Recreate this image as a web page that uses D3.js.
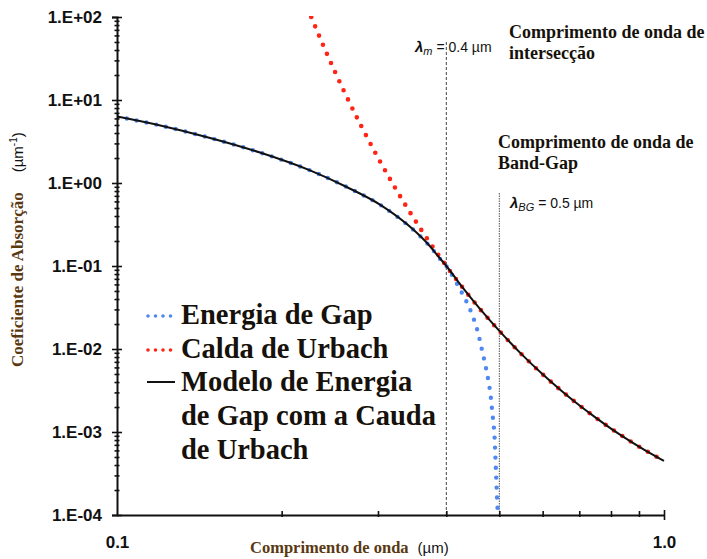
<!DOCTYPE html>
<html>
<head>
<meta charset="utf-8">
<script src="https://cdn.jsdelivr.net/npm/d3@7"></script>
<style>
  html, body { margin: 0; padding: 0; background: #fff; }
  svg { display: block; }
</style>
</head>
<body>
<svg id="chart" width="707" height="559"></svg>
<script>
// Absorption coefficient vs wavelength (log-log)

// Band-gap energy model (blue dotted)
const gapWavelength = [0.100, 0.120, 0.148, 0.1826, 0.2254, 0.263, 0.3025, 0.348, 0.3734, 0.3892, 0.400,
  0.4237, 0.4406, 0.4546, 0.4642, 0.4732, 0.4807, 0.4854, 0.4896, 0.4916, 0.4934, 0.4950, 0.4964, 0.4972];
const gapAlpha = [6.32, 4.93, 3.49, 2.33, 1.42, 0.895, 0.549, 0.274, 0.172, 0.123, 0.100,
  0.0524, 0.0315, 0.0179, 0.0101, 0.00569, 0.00315, 0.00174, 0.000973, 0.00053, 0.00029, 0.00017, 0.000115, 0.0001];

// Urbach tail (red dotted)
const urbachWavelength = [0.2265, 0.24, 0.26, 0.28, 0.30, 0.32, 0.34, 0.36, 0.38, 0.40, 0.43, 0.46,
  0.50, 0.55, 0.60, 0.65, 0.70, 0.75, 0.80, 0.85, 0.90, 0.95, 1.00];
const urbachAlpha = [100, 40.7, 12.8, 4.76, 2.02, 0.953, 0.491, 0.272, 0.161, 0.100, 0.0533, 0.0308,
  0.0165, 0.00855, 0.00495, 0.00312, 0.00210, 0.00149, 0.00110, 0.000845, 0.000668, 0.000541, 0.000448];

// Combined model: band gap with Urbach tail (black line)
const modelWavelength = [0.100, 0.120, 0.148, 0.1826, 0.2254, 0.263, 0.3025, 0.348, 0.3734, 0.3892, 0.400,
  0.43, 0.46, 0.50, 0.55, 0.60, 0.65, 0.70, 0.75, 0.80, 0.85, 0.90, 0.95, 1.00];
const modelAlpha = [6.32, 4.93, 3.49, 2.33, 1.42, 0.895, 0.549, 0.275, 0.173, 0.124, 0.100,
  0.0533, 0.0308, 0.0165, 0.00855, 0.00495, 0.00312, 0.00210, 0.00149, 0.00110, 0.000845, 0.000668, 0.000541, 0.000448];

// Axis ticks
const yTickValues = [1e-4, 1e-3, 1e-2, 1e-1, 1e0, 1e1, 1e2];
const yTickLabels = ["1.E-04", "1.E-03", "1.E-02", "1.E-01", "1.E+00", "1.E+01", "1.E+02"];
const xTickValues = [0.1, 1.0];
const xTickLabels = ["0.1", "1.0"];
const xMinorValues = [0.2, 0.3, 0.4, 0.5, 0.6, 0.7, 0.8, 0.9];

// Reference wavelengths
const lambdaIntersect = 0.4;
const lambdaBandGap = 0.5;

const legendLabels = ["Energia de Gap", "Calda de Urbach", "Modelo de Energia", "de Gap com a Cauda", "de Urbach"];

const svg = d3.select("#chart");
const plotL = 117, plotR = 664, plotT = 17, plotB = 515;

const x = d3.scaleLog().domain([0.1, 1]).range([plotL, plotR]);
const y = d3.scaleLog().domain([1e-4, 1e2]).range([plotB, plotT]);

const SANS = "'Liberation Sans', Arial, sans-serif";
const SERIF = "'Liberation Serif', 'Times New Roman', serif";
const labelInk = "#5a3912";
const ink = "#16110a";

svg.append("defs").append("clipPath").attr("id", "plot-clip")
  .append("rect").attr("x", plotL).attr("y", plotT - 1).attr("width", plotR - plotL + 2).attr("height", plotB - plotT + 1);

// Vertical reference lines
svg.append("line")
  .attr("x1", x(lambdaIntersect)).attr("x2", x(lambdaIntersect))
  .attr("y1", 42).attr("y2", plotB)
  .attr("stroke", "#444").attr("stroke-width", 1).attr("stroke-dasharray", "3,2");
svg.append("line")
  .attr("x1", x(lambdaBandGap)).attr("x2", x(lambdaBandGap))
  .attr("y1", 193).attr("y2", plotB)
  .attr("stroke", "#555").attr("stroke-width", 1).attr("stroke-dasharray", "1.5,1");

// Curves
const line = d3.line().x(d => x(d[0])).y(d => y(d[1])).curve(d3.curveMonotoneX);
const plot = svg.append("g").attr("clip-path", "url(#plot-clip)");

plot.append("path")
  .datum(d3.zip(gapWavelength, gapAlpha))
  .attr("d", d3.line().x(d => x(d[0])).y(d => y(d[1])).curve(d3.curveCatmullRom))
  .attr("fill", "none").attr("stroke", "#5088f2").attr("stroke-width", 4.4)
  .attr("stroke-linecap", "round").attr("stroke-dasharray", "0,10");

plot.append("path")
  .datum(d3.zip(urbachWavelength, urbachAlpha))
  .attr("d", line)
  .attr("fill", "none").attr("stroke", "#ff2416").attr("stroke-width", 4.6)
  .attr("stroke-linecap", "round").attr("stroke-dasharray", "0,10");

plot.append("path")
  .datum(d3.zip(modelWavelength, modelAlpha))
  .attr("d", line)
  .attr("fill", "none").attr("stroke", "#111").attr("stroke-width", 2);

// Y axis: labels + major ticks (left part)
const yAxis = svg.append("g").attr("transform", `translate(${plotL},0)`)
  .call(d3.axisLeft(y).tickValues(yTickValues).tickSize(5).tickPadding(10)
    .tickFormat((d, i) => yTickLabels[i]));
const helpers = [];
// major ticks right part
helpers.push(svg.append("g").attr("transform", `translate(${plotL},0)`)
  .call(d3.axisRight(y).tickValues(yTickValues).tickSize(5).tickFormat("")));
// minor ticks
const yMinor = [];
for (let e = -4; e < 2; e++) for (let m = 2; m <= 9; m++) yMinor.push(m * Math.pow(10, e));
helpers.push(svg.append("g").attr("transform", `translate(${plotL - 2.5},0)`)
  .call(d3.axisRight(y).tickValues(yMinor).tickSize(5).tickFormat("")));

// X axis
const xAxis = svg.append("g").attr("transform", `translate(0,${plotB})`)
  .call(d3.axisBottom(x).tickValues(xTickValues).tickSize(0).tickPadding(21)
    .tickFormat((d, i) => xTickLabels[i]));
helpers.push(svg.append("g").attr("transform", `translate(0,${plotB - 5})`)
  .call(d3.axisBottom(x).tickValues([1.0]).tickSize(10).tickFormat("")));
helpers.push(svg.append("g").attr("transform", `translate(0,${plotB - 4})`)
  .call(d3.axisBottom(x).tickValues(xMinorValues).tickSize(6).tickFormat("")));

svg.selectAll(".domain").attr("stroke", "#111").attr("stroke-width", 2);
helpers.forEach(g => g.select(".domain").remove());
svg.selectAll(".tick line").attr("stroke", "#111").attr("stroke-width", 1.6);
svg.selectAll(".tick text")
  .attr("font-family", SANS).attr("font-weight", "bold").attr("font-size", 17).attr("fill", "#111");

// Axis titles
const yTitle = svg.append("text")
  .attr("transform", "translate(23,367) rotate(-90)")
  .attr("font-weight", "bold");
yTitle.append("tspan").attr("font-family", SERIF).attr("font-size", 17).attr("fill", labelInk)
  .text("Coeficiente de Absorção");
yTitle.append("tspan").attr("font-family", SANS).attr("font-size", 15).attr("fill", "#111")
  .attr("dx", 20).attr("font-weight", "normal").text("(µm");
yTitle.append("tspan").attr("font-family", SANS).attr("font-size", 10).attr("fill", "#111")
  .attr("font-weight", "normal").attr("dy", -6).text("-1");
yTitle.append("tspan").attr("font-family", SANS).attr("font-size", 15).attr("fill", "#111")
  .attr("font-weight", "normal").attr("dy", 6).text(")");

const xTitle = svg.append("text").attr("x", 250).attr("y", 553);
xTitle.append("tspan").attr("font-family", SERIF).attr("font-weight", "bold").attr("font-size", 16.5)
  .attr("fill", labelInk).text("Comprimento de onda");
xTitle.append("tspan").attr("font-family", SANS).attr("font-size", 15).attr("fill", "#111")
  .attr("dx", 9).text("(µm)");

// Annotations
function serifNote(xp, yp, txt) {
  svg.append("text").attr("x", xp).attr("y", yp)
    .attr("font-family", SERIF).attr("font-weight", "bold").attr("font-size", 18)
    .attr("fill", ink).text(txt);
}
serifNote(509, 38, "Comprimento de onda de");
serifNote(509, 59, "intersecção");
serifNote(498, 148, "Comprimento de onda de");
serifNote(498, 169, "Band-Gap");

function lambdaNote(xp, yp, sub, rest) {
  const t = svg.append("text").attr("x", xp).attr("y", yp).attr("font-family", SANS).attr("fill", "#111");
  t.append("tspan").attr("font-size", 15).attr("font-style", "italic").attr("font-weight", "bold").text("λ");
  t.append("tspan").attr("font-size", 11).attr("font-style", "italic").attr("dy", 3).text(sub);
  t.append("tspan").attr("font-size", 14).attr("dy", -3).text(rest);
}
lambdaNote(415, 52, "m", "  = 0.4 µm");
lambdaNote(510, 208, "BG", " = 0.5 µm");

// Legend
const legendX1 = 148, legendX2 = 174, legendTextX = 181;
const legend = svg.append("g");
legend.append("line").attr("x1", legendX1).attr("x2", legendX2).attr("y1", 316).attr("y2", 316)
  .attr("stroke", "#5088f2").attr("stroke-width", 3.6).attr("stroke-linecap", "round").attr("stroke-dasharray", "0,7.5");
legend.append("line").attr("x1", legendX1).attr("x2", legendX2).attr("y1", 350).attr("y2", 350)
  .attr("stroke", "#ff2416").attr("stroke-width", 3.6).attr("stroke-linecap", "round").attr("stroke-dasharray", "0,7.5");
legend.append("line").attr("x1", legendX1 - 1).attr("x2", legendX2 + 1).attr("y1", 382).attr("y2", 382)
  .attr("stroke", "#111").attr("stroke-width", 2);
legend.selectAll("text.leg").data(legendLabels).join("text")
  .attr("class", "leg")
  .attr("x", legendTextX).attr("y", (d, i) => 324 + i * 33.7)
  .attr("font-family", SERIF).attr("font-weight", "bold").attr("font-size", 28.5)
  .attr("fill", ink).text(d => d);
</script>
</body>
</html>
